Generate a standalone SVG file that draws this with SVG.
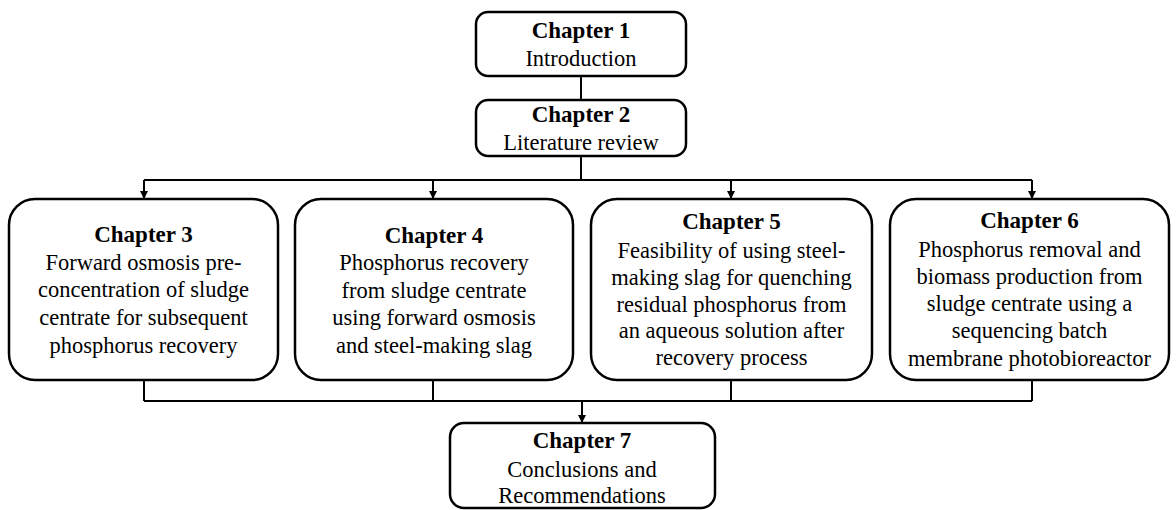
<svg xmlns="http://www.w3.org/2000/svg" width="1176" height="510" viewBox="0 0 1176 510">
<style>
.box{fill:#fff;stroke:#000;stroke-width:2.5}
.ln{fill:none;stroke:#000;stroke-width:2}
text{font-family:"Liberation Serif","Times New Roman",serif;font-size:22.5px;fill:#000;text-anchor:middle}
.h{font-weight:bold;font-size:23px}
</style>
<defs>
<marker id="ar" markerWidth="8" markerHeight="8" refX="7" refY="4" orient="auto" markerUnits="userSpaceOnUse">
<path d="M0,0 L8,4 L0,8 Z" fill="#000"/>
</marker>
</defs>
<rect width="1176" height="510" fill="#fff"/>
<g id="connectors">
<path class="ln" d="M581,76 V100"/>
<path class="ln" d="M581,156 V180"/>
<path class="ln" d="M144,180 H1032"/>
<path class="ln" d="M144,180 V198" marker-end="url(#ar)"/>
<path class="ln" d="M433,180 V198" marker-end="url(#ar)"/>
<path class="ln" d="M731,180 V198" marker-end="url(#ar)"/>
<path class="ln" d="M1032,180 V198" marker-end="url(#ar)"/>
<path class="ln" d="M144,380 V401 M433,380 V401 M731,380 V401 M1032,380 V401"/>
<path class="ln" d="M144,401 H1032"/>
<path class="ln" d="M582,401 V422" marker-end="url(#ar)"/>
</g>
<g id="ch1">
<rect class="box" x="476" y="12" width="210" height="64" rx="12"/>
<text class="h" x="581" y="38">Chapter 1</text>
<text x="581" y="66">Introduction</text>
</g>
<g id="ch2">
<rect class="box" x="476" y="100" width="210" height="56" rx="12"/>
<text class="h" x="581" y="122">Chapter 2</text>
<text x="581" y="150">Literature review</text>
</g>
<g id="ch3">
<rect class="box" x="9" y="199" width="269" height="181" rx="26"/>
<text class="h" x="143.5" y="242">Chapter 3</text>
<text x="143.5" y="270">Forward osmosis pre-</text>
<text x="143.5" y="297">concentration of sludge</text>
<text x="143.5" y="325">centrate for subsequent</text>
<text x="143.5" y="353">phosphorus recovery</text>
</g>
<g id="ch4">
<rect class="box" x="295" y="199" width="278" height="181" rx="26"/>
<text class="h" x="434" y="243">Chapter 4</text>
<text x="434" y="270">Phosphorus recovery</text>
<text x="434" y="298">from sludge centrate</text>
<text x="434" y="325">using forward osmosis</text>
<text x="434" y="353">and steel-making slag</text>
</g>
<g id="ch5">
<rect class="box" x="591" y="199" width="281" height="181" rx="26"/>
<text class="h" x="731.5" y="229">Chapter 5</text>
<text x="731.5" y="258">Feasibility of using steel-</text>
<text x="731.5" y="285">making slag for quenching</text>
<text x="731.5" y="312">residual phosphorus from</text>
<text x="731.5" y="338">an aqueous solution after</text>
<text x="731.5" y="365">recovery process</text>
</g>
<g id="ch6">
<rect class="box" x="890" y="199" width="279" height="181" rx="26"/>
<text class="h" x="1029.5" y="228">Chapter 6</text>
<text x="1029.5" y="257">Phosphorus removal and</text>
<text x="1029.5" y="284">biomass production from</text>
<text x="1029.5" y="311">sludge centrate using a</text>
<text x="1029.5" y="338">sequencing batch</text>
<text x="1029.5" y="366">membrane photobioreactor</text>
</g>
<g id="ch7">
<rect class="box" x="450" y="423" width="265" height="85" rx="14"/>
<text class="h" x="582" y="448">Chapter 7</text>
<text x="582" y="477">Conclusions and</text>
<text x="582" y="503">Recommendations</text>
</g>
</svg>
